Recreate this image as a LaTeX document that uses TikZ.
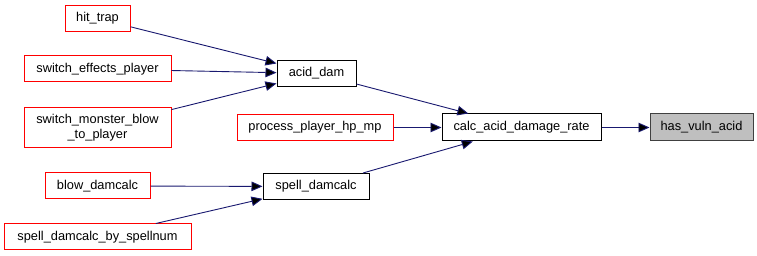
\documentclass[tikz,border=0pt]{standalone}
\usepackage{fontspec}
\setmainfont{Liberation Sans}
\usetikzlibrary{arrows.meta, positioning}

\definecolor{edgeblue}{HTML}{191970}
\definecolor{callerred}{HTML}{FF0000}
\definecolor{rootgray}{HTML}{BFBFBF}

\tikzset{
	fn/.style={draw, line width=1pt, inner sep=0pt, minimum height=26pt,
		align=center, font=\fontsize{12.8}{15}\selectfont},
	caller/.style={fn, draw=callerred},
	callee/.style={fn, draw=black},
	root/.style={fn, draw=black!75, fill=rootgray},
	call/.style={draw=edgeblue, line width=0.9pt,
		-{Triangle[length=11pt, width=9.5pt]}}
}

\begin{document}
\begin{tikzpicture}[x=1pt, y=-1pt]
				\useasboundingbox[fill=white] (0,0) rectangle (757,256);
				\node[caller, minimum width=65pt] (hittrap) at (97.5,18.5) {hit\_trap};
				\node[caller, minimum width=147pt] (sep) at (97.5,69) {switch\_effects\_player};
				\node[caller, minimum width=147pt, minimum height=40pt] (smb) at (97.5,128) {switch\_monster\_blow\\\_to\_player};
				\node[caller, minimum width=105pt] (blow) at (97.5,186) {blow\_damcalc};
				\node[caller, minimum width=187pt] (sdbs) at (97.5,237) {spell\_damcalc\_by\_spellnum};
				\node[callee, minimum width=79pt] (aciddam) at (316.5,73.5) {acid\_dam};
				\node[callee, minimum width=106pt] (spell) at (316,186.5) {spell\_damcalc};
				\node[callee, minimum width=159pt, minimum height=27pt] (calc) at (521.5,127.5) {calc\_acid\_damage\_rate};
				\node[caller, minimum width=156pt, left=48pt of calc] (pphm) {process\_player\_hp\_mp};
				\node[root, minimum width=103pt, minimum height=27pt, right=48pt of calc] (vuln) {has\_vuln\_acid};
				\path[call] (hittrap) edge (aciddam)
					(sep) edge (aciddam)
					(smb) edge (aciddam)
					(blow) edge (spell)
					(sdbs) edge (spell)
					(aciddam) edge (calc)
					(pphm) edge (calc)
					(spell) edge (calc)
					(calc) edge (vuln);
			\end{tikzpicture}
\end{document}
